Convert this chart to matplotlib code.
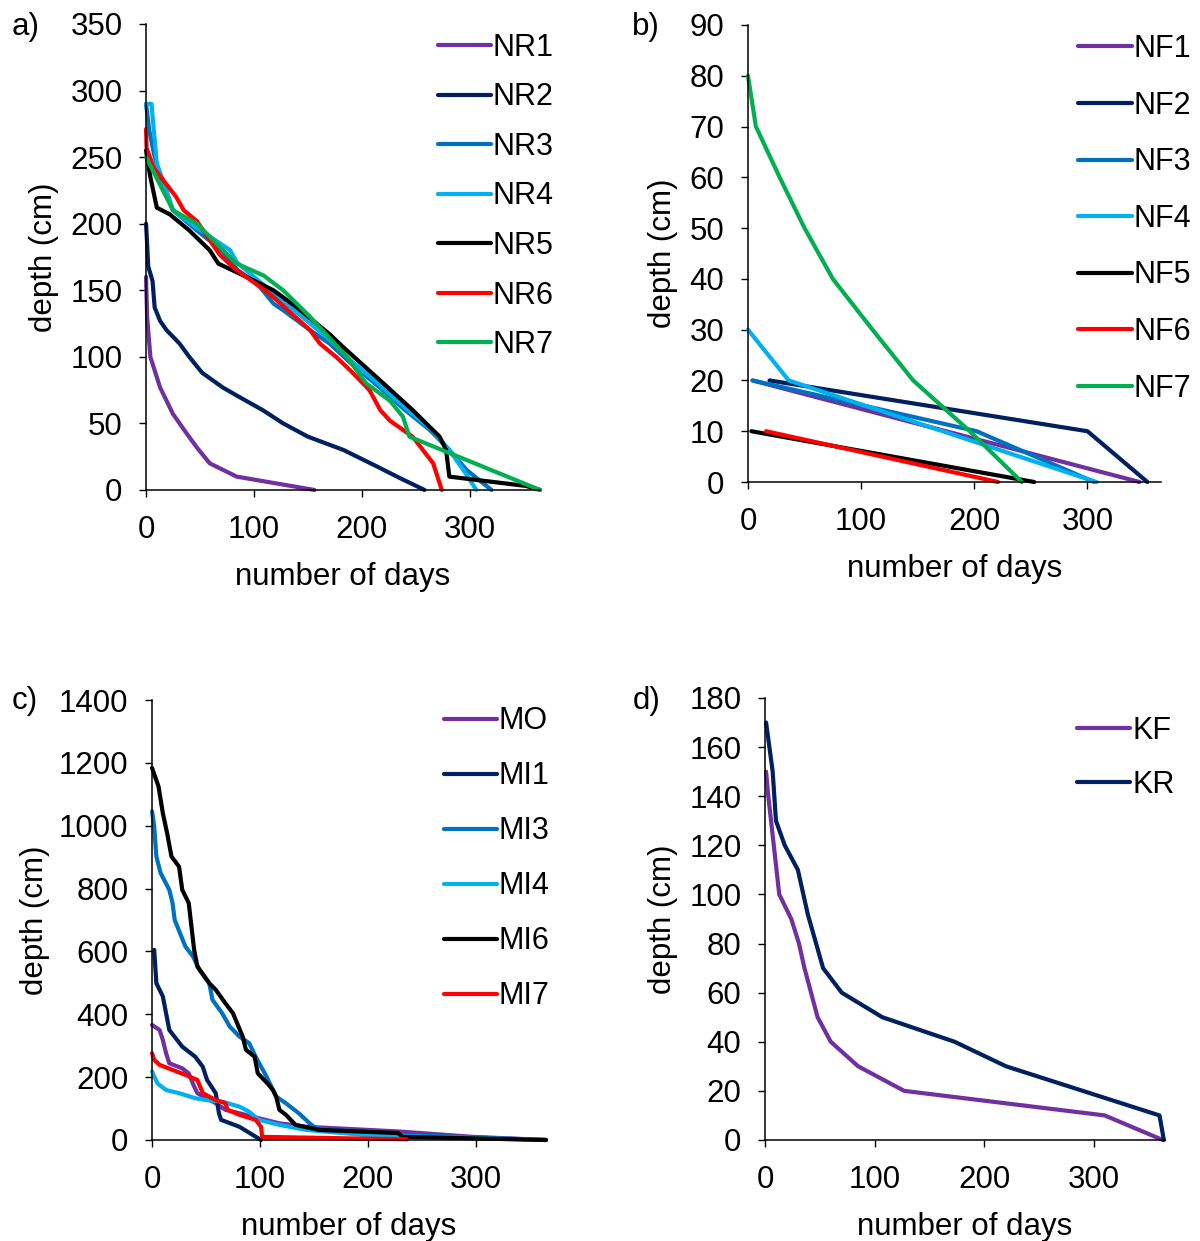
import matplotlib
matplotlib.use("Agg")
import matplotlib.pyplot as plt

plt.rcParams['font.family'] = ['Liberation Sans', 'DejaVu Sans']
plt.rcParams['font.size'] = 22.5

# Colours (Excel standard palette)
PURPLE = "#7030A0"
NAVY = "#002060"
BLUE = "#0070C0"
LIGHTBLUE = "#00B0F0"
BLACK = "#000000"
RED = "#FF0000"
GREEN = "#00B050"

# ---- panel a) ----
nr_labels = ["NR1", "NR2", "NR3", "NR4", "NR5", "NR6", "NR7"]
nr1_days = [0, 1, 4, 13, 25, 38, 47, 59, 84, 156]
nr1_depth = [160, 130, 100, 77, 57, 42, 32, 20, 10, 0]
nr2_days = [0, 1, 2, 6, 8, 13, 19, 31, 40, 52, 71, 86, 108, 127, 150, 183, 213, 235, 258]
nr2_depth = [200, 185, 168, 157, 137, 127, 120, 110, 100, 88, 77, 70, 60, 50, 40, 30, 18, 9, 0]
nr3_days = [0, 3, 8, 15, 25, 47, 70, 85, 103, 118, 127, 152, 170, 190, 215, 240, 263, 281, 297, 320]
nr3_depth = [290, 270, 250, 230, 210, 195, 180, 165, 155, 140, 135, 120, 110, 95, 78, 60, 45, 30, 15, 0]
nr4_days = [0, 5, 10, 19, 25, 47, 78, 84, 100, 127, 152, 170, 190, 215, 240, 265, 281, 294, 306]
nr4_depth = [290, 290, 245, 225, 210, 197, 180, 171, 160, 142, 125, 113, 97, 80, 62, 45, 30, 15, 0]
nr5_days = [0, 4, 10, 22, 40, 59, 67, 93, 118, 140, 170, 183, 220, 247, 272, 278, 281, 352, 365]
nr5_depth = [255, 235, 212, 207, 195, 180, 170, 160, 150, 137, 117, 107, 80, 60, 40, 30, 10, 3, 0]
nr6_days = [0, 0.5, 7, 28, 35, 47, 68, 81, 115, 152, 161, 176, 189, 207, 217, 226, 247, 266, 274]
nr6_depth = [271, 257, 242, 220, 210, 202, 177, 167, 147, 120, 110, 100, 90, 75, 60, 52, 40, 20, 0]
nr7_days = [0, 25, 47, 84, 109, 127, 152, 186, 204, 226, 238, 244, 365]
nr7_depth = [250, 210, 200, 170, 161, 150, 130, 100, 80, 67, 55, 40, 0]

# ---- panel b) ----
nf_labels = ["NF1", "NF2", "NF3", "NF4", "NF5", "NF6", "NF7"]
nf1_days = [4, 346]
nf1_depth = [20, 0]
nf2_days = [19, 300, 353]
nf2_depth = [20, 10, 0]
nf3_days = [4, 202, 306]
nf3_depth = [20, 10, 0]
nf4_days = [0, 36, 308]
nf4_depth = [30, 20, 0]
nf5_days = [3, 253]
nf5_depth = [10, 0]
nf6_days = [16, 221]
nf6_depth = [10, 0]
nf7_days = [0, 7, 28, 50, 75, 110, 146, 196, 242]
nf7_depth = [80, 70, 60, 50, 40, 30, 20, 10, 0]

# ---- panel c) ----
m_labels = ["MO", "MI1", "MI3", "MI4", "MI6", "MI7"]
mo_days = [0, 7, 10, 13, 16, 28, 34, 39, 42, 59, 68, 81, 99, 118, 143, 229, 297, 365]
mo_depth = [366, 350, 318, 276, 244, 228, 212, 170, 149, 117, 96, 85, 69, 53, 42, 27, 10, 0]
mi1_days = [2, 4, 10, 16, 28, 40, 47, 51, 59, 62, 64, 81, 101]
mi1_depth = [605, 499, 457, 350, 297, 265, 233, 191, 149, 85, 64, 42, 0]
mi3_days = [0, 2, 4, 8, 16, 19, 21, 31, 38, 44, 53, 56, 65, 72, 81, 90, 96, 106, 115, 124,
            136, 146, 152, 200, 365]
mi3_depth = [1046, 998, 902, 849, 796, 754, 700, 615, 584, 541, 499, 446, 403, 361, 329, 308,
             265, 202, 138, 117, 85, 53, 37, 20, 0]
mi4_days = [0, 5, 13, 25, 40, 50, 65, 81, 90, 99, 118, 143, 200, 365]
mi4_depth = [218, 180, 159, 149, 133, 127, 122, 106, 90, 64, 48, 32, 15, 0]
mi6_days = [0, 6, 10, 14, 18, 25, 28, 34, 39, 42, 53, 59, 68, 75, 84, 87, 95, 98, 107, 112,
            115, 118, 124, 133, 155, 228, 232, 300, 365]
mi6_depth = [1184, 1125, 1040, 976, 902, 870, 796, 754, 605, 552, 499, 478, 435, 403, 329, 287,
             265, 212, 180, 159, 138, 96, 80, 48, 32, 22, 10, 5, 0]
mi7_days = [0, 2, 7, 19, 31, 42, 47, 59, 68, 70, 81, 96, 101, 102, 236]
mi7_depth = [276, 255, 239, 223, 207, 191, 149, 127, 117, 96, 80, 64, 42, 10, 2]

# ---- panel d) ----
k_labels = ["KF", "KR"]
kf_days = [1, 3, 8, 13, 24, 31, 36, 48, 60, 85, 127, 310, 363]
kf_depth = [150, 140, 120, 100, 90, 80, 70, 50, 40, 30, 20, 10, 0]
kr_days = [1, 7, 10, 18, 30, 39, 53, 70, 107, 173, 220, 360, 364]
kr_depth = [170, 150, 130, 120, 110, 92, 70, 60, 50, 40, 30, 10, 0]


def style_axes(ax, ymax, ystep, ypad):
    ax.set_xlim(0, 365)
    ax.set_ylim(0, ymax)
    ax.set_xticks([0, 100, 200, 300])
    ax.set_yticks(range(0, ymax + 1, ystep))
    for side in ("top", "right"):
        ax.spines[side].set_visible(False)
    for side in ("left", "bottom"):
        ax.spines[side].set_linewidth(1.1)
    ax.tick_params(direction="out", length=5, width=1, labelsize=22.5, pad=12)
    ax.tick_params(axis="x", pad=13)
    ax.set_xlabel("number of days", labelpad=12)
    ax.set_ylabel("depth (cm)", labelpad=ypad)


def draw(ax, series, colors, labels, anchor, spacing):
    for (d, z), c, lab in zip(series, colors, labels):
        ax.plot(d, z, color=c, lw=3, label=lab, clip_on=False,
                solid_capstyle="round", solid_joinstyle="round")
    leg = ax.legend(loc="upper left", bbox_to_anchor=anchor, frameon=False,
                    handlelength=1.75, handletextpad=0.06, borderpad=0,
                    borderaxespad=0, labelspacing=spacing, fontsize=22)
    return leg


fig = plt.figure(figsize=(12, 12.41), dpi=100)

ax_a = fig.add_axes([0.1217, 0.6052, 0.3283, 0.3755])
draw(ax_a,
     [(nr1_days, nr1_depth), (nr2_days, nr2_depth), (nr3_days, nr3_depth), (nr4_days, nr4_depth),
      (nr5_days, nr5_depth), (nr6_days, nr6_depth), (nr7_days, nr7_depth)],
     [PURPLE, NAVY, BLUE, LIGHTBLUE, BLACK, RED, GREEN], nr_labels, (0.74, 0.981), 0.64)
style_axes(ax_a, 350, 50, 8)

ax_b = fig.add_axes([0.6233, 0.6116, 0.3442, 0.3683])
draw(ax_b,
     [(nf1_days, nf1_depth), (nf2_days, nf2_depth), (nf3_days, nf3_depth), (nf4_days, nf4_depth),
      (nf5_days, nf5_depth), (nf6_days, nf6_depth), (nf7_days, nf7_depth)],
     [PURPLE, NAVY, BLUE, LIGHTBLUE, BLACK, RED, GREEN], nf_labels, (0.800, 0.980), 0.87)
style_axes(ax_b, 90, 10, 8)

ax_c = fig.add_axes([0.1267, 0.0814, 0.3283, 0.3545])
draw(ax_c,
     [(mo_days, mo_depth), (mi1_days, mi1_depth), (mi3_days, mi3_depth), (mi4_days, mi4_depth),
      (mi6_days, mi6_depth), (mi7_days, mi7_depth)],
     [PURPLE, NAVY, BLUE, LIGHTBLUE, BLACK, RED], m_labels, (0.74, 0.986), 0.82)
style_axes(ax_c, 1400, 200, 6)

ax_d = fig.add_axes([0.6375, 0.0814, 0.3333, 0.3562])
draw(ax_d, [(kf_days, kf_depth), (kr_days, kr_depth)], [PURPLE, NAVY], k_labels,
     (0.78, 0.959), 0.78)
style_axes(ax_d, 180, 20, 8)

for lab, x, y in [("a)", 0.01, 0.99), ("b)", 0.527, 0.99), ("c)", 0.01, 0.447), ("d)", 0.527, 0.447)]:
    fig.text(x, y, lab, fontsize=22.5, va="top", ha="left")

fig.savefig("out.png", dpi=100)
